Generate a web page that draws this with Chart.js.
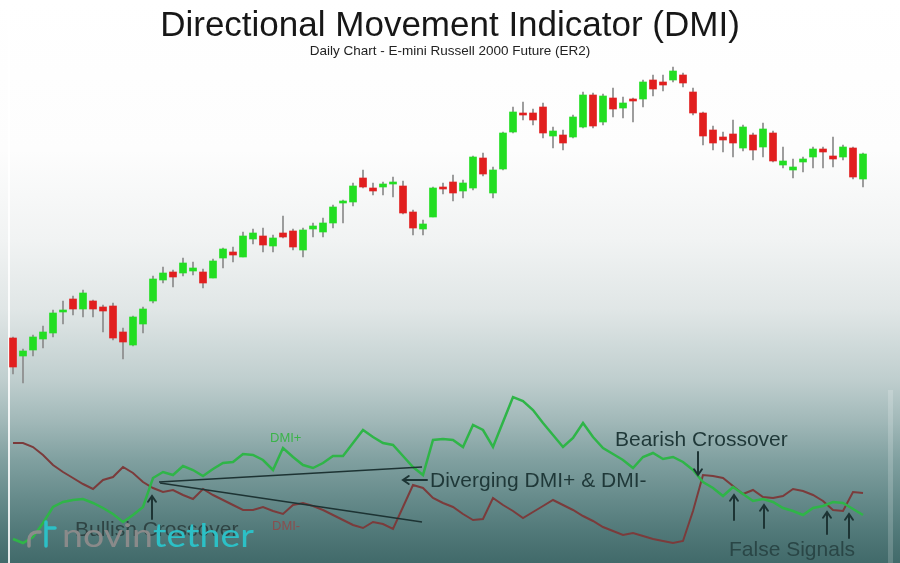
<!DOCTYPE html>
<html><head><meta charset="utf-8">
<script src="https://cdn.jsdelivr.net/npm/chart.js@4"></script>
<style>
html,body{margin:0;padding:0;background:#fff;}
#wrap{position:relative;width:900px;height:563px;overflow:hidden;
background:linear-gradient(to bottom,#ffffff 0px,#fdfdfd 150px,#f1f3f3 240px,#e0e6e6 310px,#bfcece 380px,#a2b9b9 420px,#80a0a0 460px,#658a8a 500px,#4f7777 535px,#416a6a 563px);}
canvas{position:absolute;left:0;top:0;}
.edgeL{position:absolute;left:8px;top:0;width:2px;height:563px;background:rgba(255,255,255,0.85);}
.edgeR{position:absolute;left:888px;top:390px;width:5px;height:173px;background:rgba(255,255,255,0.18);}
</style></head><body>
<div id="wrap">
<div class="edgeL"></div><div class="edgeR"></div>
<canvas id="c" width="900" height="563"></canvas>
</div>
<script>
// ---- data ----
const candleOpen = [726,717,720,725.5,728.5,739,745.5,740.5,744.5,741.5,
742,729,722.5,733,744.5,755,759,758.5,759.5,759,
756,766,769,766.5,775.5,777,772,778.5,779.5,770,
780.5,779,783.5,793.5,794,806,801,801.5,803,802,
789,780.5,786.5,801.5,804,799.5,801,816,798.5,810.5,
829,838.5,838.5,841.5,827,827.5,826.5,831.5,847.5,834,
846,841,845.5,845.5,855,854,855,857.5,849,838.5,
830,826.5,828,821,827.5,821.5,828.5,812.5,810,814,
816.5,820.5,817,816.5,821,805.5];
const candleHigh = [726.5,720.5,727.5,732,740,744.5,747,750,745,742.5,
743.5,731,737,741.5,757,761.5,760,766,764,760.5,
765.5,771,771.5,779,780.5,781,777.5,787,780.5,781,
783.5,786,792.5,795,803.5,810,803.5,804,806.5,804.5,
790,785,801.5,803.5,807.5,805,817,818.5,811.5,829,
841.5,844,840.5,843.5,831.5,830,837.5,849,848.5,848,
851,846.5,846,855,857.5,857.5,861.5,858.5,851,839,
832,829,835,832.5,828.5,833.5,829.5,821.5,815.5,816.5,
821.5,821.5,826.5,822.5,821.5,818.5];
const candleLow = [708,703.5,717,721,726.5,733,737.5,736.5,736.5,729,
725,715.5,722,728.5,743.5,753.5,751.5,757,757.5,751,
756,761,764,766.5,773,769,769,776,770,766.5,
776.5,776.5,781,783.5,792,801,797.5,797.5,796.5,788,
777.5,777.5,786.5,798,794.5,796,800,807,796,810,
828.5,835,832.5,826,821,820,826,831,831,832.5,
836.5,836,834,841.5,847,849.5,854,851.5,837.5,822.5,
820,819,816.5,819.5,815,816.5,814,811,806,809,
811,811,811.5,815,805.5,801.5];
const candleClose = [711.5,719.5,726.5,729,738.5,740,740.5,748.5,740.5,739.5,
726,724,736.5,740.5,755.5,758.5,756.5,763.5,761,753.5,
764.5,770.5,767.5,777,778.5,772.5,776,776.5,771.5,780,
782,783.5,791.5,794.5,802,801.5,799.5,803,804,788.5,
781,783,801,800.5,798.5,803.5,816.5,808,810,828.5,
839,837.5,835,828.5,829.5,823.5,836.5,847.5,832,847,
840.5,843.5,844.5,854,850.5,852.5,859.5,853.5,838.5,827,
823.5,825,823.5,831.5,820,830.5,814.5,814.5,811.5,815.5,
820.5,819,815.5,821.5,806.5,818];
const dmiPlus = [10.2,9.4,10.6,13.4,16.6,17.6,18.0,18.2,17.4,16.4,
15.2,13.6,15.0,16.6,22.4,23.6,23.0,24.8,24.0,22.8,
24.2,25.4,25.6,27.2,27.0,26.0,24.0,28.4,26.6,25.0,
24.4,25.4,26.8,26.8,29.4,32.0,30.6,29.4,29.0,26.8,
24.6,23.0,30.0,30.2,30.0,28.6,33.0,32.0,28.6,33.6,
38.6,37.8,36.0,33.4,31.0,28.6,30.4,33.4,30.6,28.4,
27.2,26.0,24.4,26.6,27.4,26.2,26.6,25.6,24.0,21.6,
20.4,18.8,20.6,19.2,17.8,18.2,17.6,16.4,15.8,15.0,
16.4,16.8,17.6,17.4,16.2,15.0];
const dmiMinus = [29.4,29.4,28.6,27.0,25.0,23.6,22.4,21.2,20.2,22.0,
22.6,24.6,23.4,21.6,20.4,19.6,20.0,19.0,18.2,20.2,
19.0,18.0,17.0,16.0,16.0,16.6,15.8,15.2,17.0,17.4,
16.8,16.0,15.0,14.0,13.0,12.4,13.6,13.2,12.2,16.6,
21.0,20.4,18.4,17.4,16.6,15.2,14.0,14.2,18.4,17.0,
15.8,14.4,15.6,16.8,18.0,17.0,16.0,14.8,13.8,12.6,
11.8,11.0,11.4,10.8,10.2,9.8,9.4,9.8,15.8,23.0,
22.8,22.4,20.8,19.2,20.0,18.6,18.4,18.8,20.2,19.8,
19.0,17.8,16.0,15.8,19.6,19.4];
// trend lines drawn on the DMI pane (index, value)
const trendUpper = [[14.6,21.6],[40.9,24.6]];
const trendLower = [[14.7,21.4],[40.9,13.6]];

const idx = candleOpen.map((_, i) => i);
const UP = '#22de22', DOWN = '#e11f1f';
const bodyColors = idx.map(i => candleClose[i] >= candleOpen[i] ? UP : DOWN);

const annotations = {
  texts: [
    {t:'Bullish Crossover', x:6.2, y:12.0, size:21, color:'rgba(40,58,58,0.85)'},
    {t:'Diverging DMI+ & DMI-', x:41.7, y:21.8, size:21, color:'#1f3838'},
    {t:'Bearish Crossover', x:60.2, y:30.0, size:21, color:'#1f3838'},
    {t:'False Signals', x:71.6, y:8.0, size:21, color:'#2a4646'},
    {t:'DMI+', x:25.7, y:30.4, size:13, color:'#3bb44a'},
    {t:'DMI-', x:25.9, y:12.8, size:13, color:'#8a4f4f'}
  ],
  arrows: [
    [13.9,14.2,13.9,18.8],
    [41.4,22.0,39.0,22.0],
    [68.5,27.6,68.5,23.0],
    [72.1,14.0,72.1,19.0],
    [75.1,12.4,75.1,17.0],
    [81.4,11.2,81.4,15.6],
    [83.6,10.4,83.6,15.2]
  ]
};

const annoPlugin = {
  id: 'anno',
  afterDraw(chart) {
    const ctx = chart.ctx;
    const xs = chart.scales.x, ys = chart.scales.yDmi;
    const X = v => xs.getPixelForValue(v), Y = v => ys.getPixelForValue(v);
    ctx.save();
    // title / subtitle
    ctx.fillStyle = '#171717';
    ctx.textAlign = 'center';
    ctx.textBaseline = 'alphabetic';
    ctx.font = '35px "Liberation Sans", Arial, sans-serif';
    ctx.fillText('Directional Movement Indicator (DMI)', 450, 36);
    ctx.font = '13.5px "Liberation Sans", Arial, sans-serif';
    ctx.fillStyle = '#222';
    ctx.fillText('Daily Chart - E-mini Russell 2000 Future (ER2)', 450, 55);
    // texts
    ctx.textAlign = 'left';
    ctx.textBaseline = 'middle';
    annotations.texts.forEach(a => {
      ctx.font = a.size + 'px "Liberation Sans", Arial, sans-serif';
      ctx.fillStyle = a.color;
      ctx.fillText(a.t, X(a.x), Y(a.y));
    });
    // arrows
    ctx.strokeStyle = '#1d3434';
    ctx.lineWidth = 2;
    ctx.lineCap = 'round';
    annotations.arrows.forEach(([a,b,c,d]) => {
      const x1 = X(a), y1 = Y(b), x2 = X(c), y2 = Y(d);
      const ang = Math.atan2(y2 - y1, x2 - x1), h = 7;
      ctx.beginPath();
      ctx.moveTo(x1, y1); ctx.lineTo(x2, y2);
      ctx.moveTo(x2 - h*Math.cos(ang - 0.6), y2 - h*Math.sin(ang - 0.6));
      ctx.lineTo(x2, y2);
      ctx.lineTo(x2 - h*Math.cos(ang + 0.6), y2 - h*Math.sin(ang + 0.6));
      ctx.stroke();
    });
    // watermark logo
    ctx.lineWidth = 3.5;
    ctx.lineCap = 'round';
    ctx.strokeStyle = '#8c8c8c';
    ctx.beginPath();
    ctx.moveTo(29, 546); ctx.lineTo(29, 540);
    ctx.arc(37, 540, 8, Math.PI, 1.5*Math.PI);
    ctx.lineTo(40, 532);
    ctx.stroke();
    ctx.strokeStyle = '#2cc0c6';
    ctx.beginPath();
    ctx.moveTo(46, 522); ctx.lineTo(46, 546);
    ctx.moveTo(46, 528); ctx.lineTo(55, 528);
    ctx.stroke();
    ctx.font = '400 32px Lato, "Open Sans", sans-serif';
    ctx.textBaseline = 'alphabetic';
    const w1 = ctx.measureText('novin').width, w2 = ctx.measureText('tether').width;
    const sc = 192 / (w1 + w2);
    ctx.translate(62, 547);
    ctx.scale(sc, 1);
    ctx.fillStyle = '#8a8a8a';
    ctx.fillText('novin', 0, 0);
    ctx.fillStyle = '#2cc0c6';
    ctx.fillText('tether', w1, 0);
    ctx.restore();
  }
};

new Chart(document.getElementById('c'), {
  type: 'bar',
  data: {
    datasets: [
      {
        label: 'wick', type: 'bar', yAxisID: 'yP', order: 6,
        data: idx.map(i => ({x: i, y: [candleLow[i], candleHigh[i]]})),
        backgroundColor: '#8a8a8a', barThickness: 1, grouped: false
      },
      {
        label: 'body', type: 'bar', yAxisID: 'yP', order: 5,
        data: idx.map(i => ({x: i, y: [candleOpen[i], candleClose[i]]})),
        backgroundColor: bodyColors, barThickness: 7, grouped: false, minBarLength: 2
      },
      {
        label: 'DMI-', type: 'line', yAxisID: 'yDmi', order: 3,
        data: idx.map(i => ({x: i, y: dmiMinus[i]})),
        borderColor: '#7b3b3b', borderWidth: 2, pointRadius: 0, tension: 0, fill: false
      },
      {
        label: 'DMI+', type: 'line', yAxisID: 'yDmi', order: 2,
        data: idx.map(i => ({x: i, y: dmiPlus[i]})),
        borderColor: '#2fb548', borderWidth: 2.5, pointRadius: 0, tension: 0, fill: false
      },
      {
        label: 'trend1', type: 'line', yAxisID: 'yDmi', order: 1,
        data: trendUpper.map(p => ({x: p[0], y: p[1]})),
        borderColor: '#1d3333', borderWidth: 1.5, pointRadius: 0, fill: false
      },
      {
        label: 'trend2', type: 'line', yAxisID: 'yDmi', order: 1,
        data: trendLower.map(p => ({x: p[0], y: p[1]})),
        borderColor: '#1d3333', borderWidth: 1.5, pointRadius: 0, fill: false
      }
    ]
  },
  options: {
    responsive: false,
    animation: false,
    devicePixelRatio: 1,
    layout: {padding: {left: 8, right: 32, top: 0, bottom: 0}},
    plugins: {legend: {display: false}, tooltip: {enabled: false}, title: {display: false}},
    scales: {
      x: {type: 'linear', min: -0.5, max: 85.5, offset: false, display: false},
      yP: {type: 'linear', min: 613.5, max: 895, display: false},
      yDmi: {type: 'linear', min: 5.4, max: 118, display: false}
    }
  },
  plugins: [annoPlugin]
});
</script>
</body></html>
